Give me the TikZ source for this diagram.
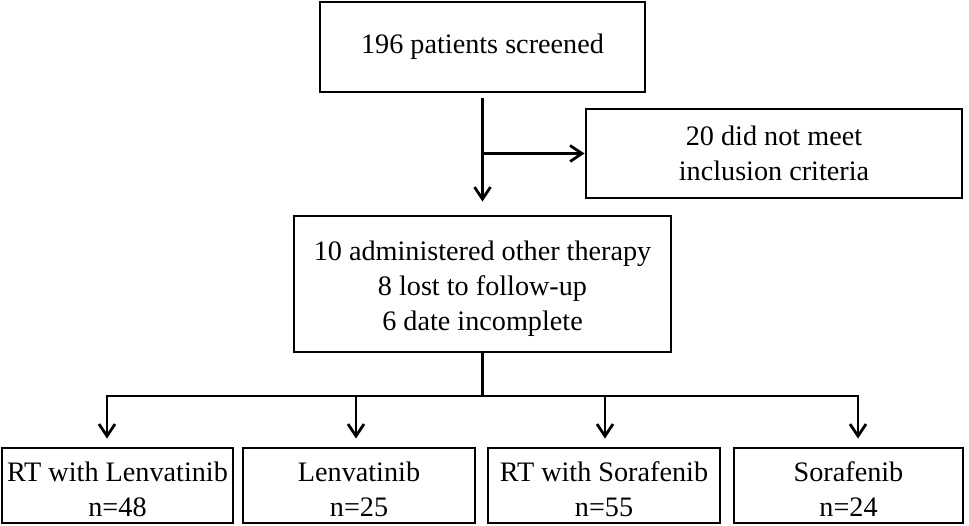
\documentclass[tikz,border=0pt]{standalone}
\usepackage{fontspec}
\setmainfont{Liberation Serif}
\usetikzlibrary{arrows.meta}
\begin{document}
\begin{tikzpicture}[x=1pt,y=-1pt,
  box/.style={draw,line width=2.8pt,inner sep=0pt,align=center,
    font=\fontsize{28.2}{35}\selectfont},
  line/.style={line width=2.8pt},
  arr/.style={line width=2.8pt,-{Straight Barb[length=12pt,width=16pt,line width=2.8pt]}}]
\useasboundingbox (0,0) rectangle (969,526);
\node[box,minimum width=325pt,minimum height=90pt] (top) at (482.5,47) {196 patients screened};
\node[box,minimum width=376pt,minimum height=89pt] (excl) at (774,153.5) {20 did not meet\\inclusion criteria};
\node[box,minimum width=377pt,minimum height=136pt] (mid) at (482.5,284) {\rule{0pt}{29pt}10 administered other therapy\\8 lost to follow-up\\6 date incomplete};
\node[box,minimum width=231pt,minimum height=75pt] (b1) at (117.5,485.5) {\rule{0pt}{27pt}RT with Lenvatinib\\n=48};
\node[box,minimum width=232pt,minimum height=75pt] (b2) at (359,485.5) {\rule{0pt}{27pt}Lenvatinib\\n=25};
\node[box,minimum width=232pt,minimum height=75pt] (b3) at (604,485.5) {\rule{0pt}{27pt}RT with Sorafenib\\n=55};
\node[box,minimum width=229pt,minimum height=75pt] (b4) at (848.5,485.5) {\rule{0pt}{27pt}Sorafenib\\n=24};
\coordinate (j) at (482.5,153.5);
\draw[arr,shorten <=5pt,shorten >=13pt] (top.south) -- (mid.north);
\draw[arr] (j) -- (excl.west);
\coordinate (b) at (482.5,396);
\coordinate (a1) at (107,396);
\coordinate (a2) at (356,396);
\coordinate (a3) at (605,396);
\coordinate (a4) at (858,396);
\draw[line] (mid.south) -- (b);
\draw[line] ([xshift=-1.4pt]a1) -- ([xshift=1.4pt]a4);
\draw[arr,shorten >=8pt] (a1) -- (a1 |- b1.north);
\draw[arr,shorten >=8pt] (a2) -- (a2 |- b2.north);
\draw[arr,shorten >=8pt] (a3) -- (a3 |- b3.north);
\draw[arr,shorten >=8pt] (a4) -- (a4 |- b4.north);
\end{tikzpicture}
\end{document}
